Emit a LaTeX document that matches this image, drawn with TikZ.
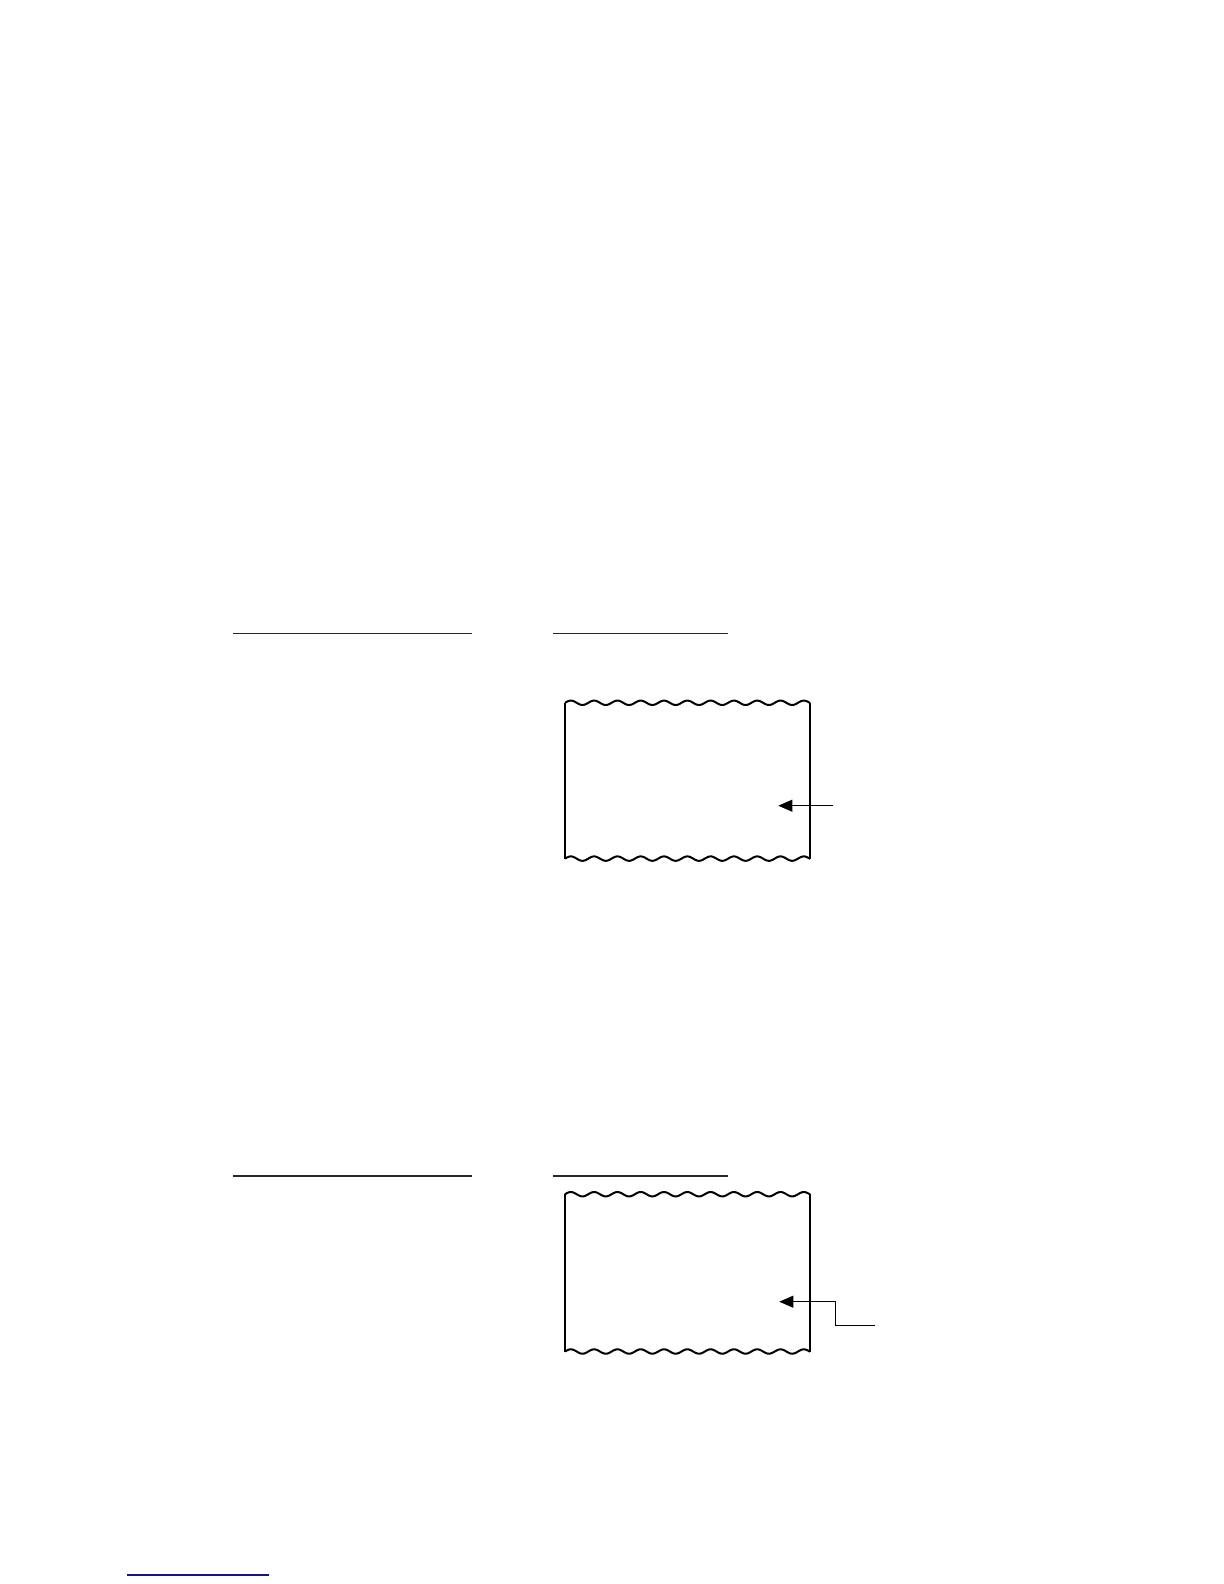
\documentclass[tikz,border=0pt]{standalone}
\usetikzlibrary{arrows.meta}
\definecolor{linkblue}{RGB}{20,20,140}
\tikzset{
  rule/.style={line width=0.6pt, black!85},
  side/.style={line width=1.1pt},
  wave/.style={line width=1pt},
  pointer/.style={line width=0.5pt, -{Triangle[length=7pt,width=6pt]}},
}
\begin{document}
\begin{tikzpicture}[x=0.5pt,y=-0.5pt]
\useasboundingbox (0,0) rectangle (1224,1584);
% upper rules
\draw[rule] (233,633.3) -- (472,633.3);
\draw[rule] (553.3,633.3) -- (727.7,633.3);
% lower rules
\draw[rule] (233,1176) -- (472,1176);
\draw[rule] (553.3,1176) -- (727.7,1176);
% box 1
\draw[side] (565,702.5) -- (565,858.5);
\draw[side] (810,702.5) -- (810,858.5);
\draw[wave] plot[domain=0:245, samples=220, smooth] ({565+\x}, {702.8 - 2.2*sin(\x*15.45)});
\draw[wave] plot[domain=0:245, samples=220, smooth] ({565+\x}, {858.6 - 2.2*sin(\x*15.45)});
\coordinate (t1) at (778.3,805.7);
\coordinate (s1) at (833.3,805.7);
\draw[pointer] (s1) -- (t1);
% box 2
\draw[side] (565,1194.2) -- (565,1351.5);
\draw[side] (810,1194.2) -- (810,1351.5);
\draw[wave] plot[domain=0:245, samples=220, smooth] ({565+\x}, {1194.2 - 2.2*sin(\x*15.45)});
\draw[wave] plot[domain=0:245, samples=220, smooth] ({565+\x}, {1351.5 - 2.2*sin(\x*15.45)});
\coordinate (t2) at (779.3,1301.7);
\coordinate (s2) at (875,1325.7);
\draw[pointer] (s2) -- (835,1325.7) -- (835,1301.7) -- (t2);
% bottom link underline
\draw[line width=0.7pt, linkblue] (127,1575) -- (269,1575);
\end{tikzpicture}
\end{document}
